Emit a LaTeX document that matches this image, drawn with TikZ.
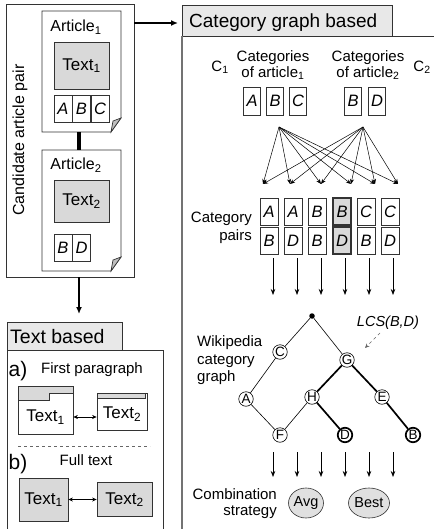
\documentclass[tikz,border=0pt]{standalone}
\usepackage{fontspec}
\setmainfont{Liberation Sans}
\usetikzlibrary{arrows.meta,shapes.geometric}

\tikzset{
  rim/.style={draw=black!80, line width=0.7pt},
  paper/.style={rim, fill=white},
  greybox/.style={rim, fill=black!15, inner sep=0pt, font=\fontsize{17}{19}\selectfont},
  headbox/.style={rim, fill=black!9},
  lbl/.style={inner sep=0pt, font=\fontsize{15}{17}\selectfont},
  cell/.style={rim, fill=white, minimum width=18pt, minimum height=27pt, inner sep=0pt, font=\fontsize{16.5}{18}\selectfont\itshape},
  cat/.style={circle, draw=black, line width=0.6pt, fill=white, minimum size=14.5pt, inner sep=0pt, font=\fontsize{13.5}{14}\selectfont},
  strat/.style={ellipse, draw=black!80, line width=0.6pt, fill=black!12, minimum width=35pt, minimum height=30pt, inner sep=0pt, font=\fontsize{14.5}{16}\selectfont},
  link/.style={-{Latex[length=7pt,width=6pt]}, line width=1.5pt},
  fan/.style={-{Stealth[length=5pt,width=4pt]}, line width=0.5pt},
  down/.style={-{Stealth[length=6pt,width=4.5pt]}, line width=0.7pt},
  both/.style={{Stealth[length=4.5pt,width=4pt]}-{Stealth[length=4.5pt,width=4pt]}, line width=0.7pt},
  edge/.style={line width=0.6pt},
  path/.style={line width=1.7pt},
}

\begin{document}
\begin{tikzpicture}[x=1pt,y=-1pt]
\useasboundingbox (0,0) rectangle (433,529);

% candidate article pair
\node[paper, anchor=north west, minimum width=128pt, minimum height=273pt] (pair) at (6,4) {};
\node[lbl, rotate=90, font=\fontsize{16}{18}\selectfont] (pairname) at (20,140) {Candidate article pair};

\draw[paper] (42,11) -- (121,11) -- (121,118) -- (111,132) -- (42,132) -- cycle;
\filldraw[rim, fill=black!25] (111,132) -- (121,118) -- (113,121) -- cycle;
\node[lbl, font=\fontsize{16}{18}\selectfont] (art1) at (76,27) {Article\textsubscript{1}};
\node[greybox, minimum width=55pt, minimum height=47pt] (text1) at (81.5,65.5) {Text\textsubscript{1}};
\node[cell] (a1a) at (63,109) {A};
\node[cell] (a1b) at (81.5,109) {B};
\node[cell] (a1c) at (100,109) {C};

\draw[paper] (42,150) -- (121,150) -- (121,257) -- (111,271) -- (42,271) -- cycle;
\filldraw[rim, fill=black!25] (111,271) -- (121,257) -- (113,260) -- cycle;
\node[lbl, font=\fontsize{16}{18}\selectfont] (art2) at (76,165) {Article\textsubscript{2}};
\node[greybox, minimum width=55pt, minimum height=42pt] (text2) at (81.5,201) {Text\textsubscript{2}};
\node[cell] (a2b) at (63,248) {B};
\node[cell] (a2d) at (81.5,248) {D};

\coordinate (art1s) at (79,132);
\coordinate (art2n) at (79,150);
\draw[line width=4pt] (art1s) -- (art2n);

\coordinate (pairout) at (134,23);
\coordinate (catin) at (178,23);
\draw[link] (pairout) -- (catin);
\coordinate (pairdown) at (79,277);
\coordinate (txtin) at (79,314);
\draw[link] (pairdown) -- (txtin);

% text based
\node[headbox, anchor=north west, minimum width=115pt, minimum height=28pt] (txthead) at (7,322) {};
\node[lbl, font=\fontsize{19.5}{21}\selectfont, anchor=base west] (txttitle) at (10,343) {Text based};
\draw[rim] (7,530) -- (7,350) -- (163,350) -- (163,530);

\node[lbl, font=\fontsize{21}{23}\selectfont] (parta) at (18,371) {a)};
\node[lbl] (first) at (92,370) {First paragraph};
\node[paper, minimum width=55pt, minimum height=48pt] (fold1) at (45.5,410) {};
\filldraw[rim, fill=black!15] (18,386) -- (73,386) -- (73,393) -- (49,393) -- (49,400) -- (18,400) -- cycle;
\node[lbl, font=\fontsize{17}{19}\selectfont] (fp1) at (45.5,417) {Text\textsubscript{1}};
\node[paper, minimum width=50pt, minimum height=37pt] (fold2) at (122,411.5) {};
\filldraw[rim, fill=black!15] (97,393) -- (145,393) -- (145,398) -- (97,398) -- cycle;
\node[lbl, font=\fontsize{17}{19}\selectfont] (fp2) at (122,414) {Text\textsubscript{2}};
\draw[both] (fold1.east |- fp1) -- (fold2.west |- fp1);

\coordinate (sepl) at (18,446);
\coordinate (sepr) at (150,446);
\draw[dashed, black!60, line width=0.6pt] (sepl) -- (sepr);

\node[lbl, font=\fontsize{21}{23}\selectfont] (partb) at (18,464) {b)};
\node[lbl] (full) at (86,460) {Full text};
\node[greybox, minimum width=49pt, minimum height=43pt] (ft1) at (43.5,499.5) {Text\textsubscript{1}};
\node[greybox, minimum width=55pt, minimum height=34pt] (ft2) at (124.5,499.5) {Text\textsubscript{2}};
\draw[both] (ft1) -- (ft2);

% category graph based
\node[headbox, anchor=north west, minimum width=210pt, minimum height=31pt] (cathead) at (182,5) {};
\node[lbl, font=\fontsize{19}{21}\selectfont, anchor=base west] (cattitle) at (189,28) {Category graph based};
\draw[rim] (392,36) -- (434,36);
\draw[black!55, line width=1.4pt] (182,36) -- (182,530);

\node[lbl] (c1) at (220,67) {C\textsubscript{1}};
\node[lbl, align=center, font=\fontsize{15}{16}\selectfont] (cats1) at (273,65) {Categories\\of article\textsubscript{1}};
\node[lbl, align=center, font=\fontsize{15}{16}\selectfont] (cats2) at (368,65) {Categories\\of article\textsubscript{2}};
\node[lbl] (c2) at (422,67) {C\textsubscript{2}};

\node[cell, minimum width=17pt, minimum height=28pt] (ka) at (252,101) {A};
\node[cell, minimum width=17pt, minimum height=28pt] (kb) at (275,101) {B};
\node[cell, minimum width=17pt, minimum height=28pt] (kc) at (298,101) {C};
\node[cell, minimum width=17pt, minimum height=28pt] (lb) at (353,101) {B};
\node[cell, minimum width=17pt, minimum height=28pt] (ld) at (377,101) {D};

\coordinate (s1) at (279,127);
\coordinate (s2) at (363,127);
\coordinate (t1) at (263,184);
\coordinate (t2) at (290,184);
\coordinate (t3) at (321,184);
\coordinate (t4) at (351,184);
\coordinate (t5) at (375,184);
\coordinate (t6) at (398,184);
\draw[fan] (s1) -- (t1);
\draw[fan] (s1) -- (t2);
\draw[fan] (s1) -- (t3);
\draw[fan] (s1) -- (t4);
\draw[fan] (s1) -- (t5);
\draw[fan] (s1) -- (t6);
\draw[fan] (s2) -- (t1);
\draw[fan] (s2) -- (t2);
\draw[fan] (s2) -- (t3);
\draw[fan] (s2) -- (t4);
\draw[fan] (s2) -- (t5);
\draw[fan] (s2) -- (t6);

\node[lbl, align=right, anchor=east, font=\fontsize{15}{18}\selectfont] (pairs) at (252,228) {Category\\pairs};
\node[cell] (p1t) at (269,211.5) {A};
\node[cell] (p1b) at (269,240.5) {B};
\node[cell] (p2t) at (293,211.5) {A};
\node[cell] (p2b) at (293,240.5) {D};
\node[cell] (p3t) at (317,211.5) {B};
\node[cell] (p3b) at (317,240.5) {B};
\node[cell, fill=black!15, line width=1.3pt] (p4t) at (342,211.5) {B};
\node[cell, fill=black!15, line width=1.3pt] (p4b) at (342,240.5) {D};
\node[cell] (p5t) at (366,211.5) {C};
\node[cell] (p5b) at (366,240.5) {B};
\node[cell] (p6t) at (390,211.5) {C};
\node[cell] (p6b) at (390,240.5) {D};

\coordinate (u1) at (273,258);
\coordinate (u2) at (297,258);
\coordinate (u3) at (321,258);
\coordinate (u4) at (345,258);
\coordinate (u5) at (369,258);
\coordinate (u6) at (393,258);
\coordinate (v1) at (273,295);
\coordinate (v2) at (297,295);
\coordinate (v3) at (321,295);
\coordinate (v4) at (345,295);
\coordinate (v5) at (369,295);
\coordinate (v6) at (393,295);
\draw[down] (u1) -- (v1);
\draw[down] (u2) -- (v2);
\draw[down] (u3) -- (v3);
\draw[down] (u4) -- (v4);
\draw[down] (u5) -- (v5);
\draw[down] (u6) -- (v6);

\node[lbl, align=left, anchor=west, font=\fontsize{15}{17.5}\selectfont] (wiki) at (197,360.5) {Wikipedia\\category\\graph};
\node[lbl, font=\fontsize{14.5}{16}\selectfont\itshape] (lcs) at (388,323) {LCS(B,D)};
\coordinate (lcsfrom) at (380,333);
\coordinate (lcsto) at (365,348);
\draw[dashed, black!60, line width=0.6pt, -{Stealth[length=4.5pt,width=4pt]}] (lcsfrom) -- (lcsto);

\node[circle, fill=black, inner sep=0pt, minimum size=5.5pt] (root) at (312,316) {};
\node[cat] (gc) at (280,352) {C};
\node[cat] (gg) at (347,360) {G};
\node[cat] (ga) at (246,399) {A};
\node[cat] (gh) at (312,397) {H};
\node[cat] (ge) at (382,397) {E};
\node[cat] (gf) at (280,435) {F};
\node[cat, line width=1.7pt] (gd) at (345,435) {D};
\node[cat, line width=1.7pt] (gb) at (413,435) {B};
\draw[edge] (root) -- (gc);
\draw[edge] (root) -- (gg);
\draw[edge] (gc) -- (ga);
\draw[edge] (ga) -- (gf);
\draw[edge] (gf) -- (gh);
\draw[path] (gg) -- (gh);
\draw[path] (gh) -- (gd);
\draw[path] (gg) -- (ge);
\draw[path] (ge) -- (gb);

\coordinate (w1) at (273,452);
\coordinate (w2) at (297,452);
\coordinate (w3) at (321,452);
\coordinate (w4) at (345,452);
\coordinate (w5) at (369,452);
\coordinate (w6) at (393,452);
\coordinate (z1) at (273,477);
\coordinate (z2) at (297,477);
\coordinate (z3) at (321,477);
\coordinate (z4) at (345,477);
\coordinate (z5) at (369,477);
\coordinate (z6) at (393,477);
\draw[down] (w1) -- (z1);
\draw[down] (w2) -- (z2);
\draw[down] (w3) -- (z3);
\draw[down] (w4) -- (z4);
\draw[down] (w5) -- (z5);
\draw[down] (w6) -- (z6);

\node[lbl, align=right, anchor=east, font=\fontsize{15}{16}\selectfont] (comb) at (277,504) {Combination\\strategy};
\node[strat] (avg) at (306,503) {Avg};
\node[strat] (best) at (369,503) {Best};

\end{tikzpicture}
\end{document}
